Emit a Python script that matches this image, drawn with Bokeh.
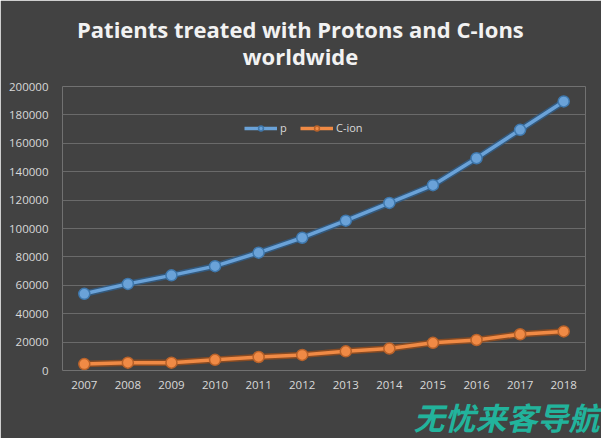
from bokeh.plotting import figure
from bokeh.models import Range1d, Title, Legend, LegendItem, FixedTicker, NumeralTickFormatter
from bokeh.embed import file_html
from bokeh.resources import INLINE

years = [2007, 2008, 2009, 2010, 2011, 2012, 2013, 2014, 2015, 2016, 2017, 2018]
protons = [54000, 61000, 67000, 73500, 83000, 93500, 105500, 118000, 130500, 149500, 169500, 189500]
cions = [4500, 5500, 5500, 7500, 9500, 11000, 13500, 15500, 19500, 21500, 25500, 27500]
y_ticks = [0, 20000, 40000, 60000, 80000, 100000, 120000, 140000, 160000, 180000, 200000]
title_lines = ["Patients treated with Protons and C-Ions", "worldwide"]

BG = "#424242"
p = figure(width=601, height=438, output_backend="svg", toolbar_location=None,
           x_range=Range1d(2006.5, 2018.5), y_range=Range1d(0, 200000),
           min_border_left=62, min_border_right=16, min_border_bottom=67, min_border_top=86,
           background_fill_color=BG, border_fill_color=BG, outline_line_color=None)

# second line is centred under the first with non-breaking spaces
p.title.text = title_lines[0] + "\n" + "\u00a0" * 29 + title_lines[1]
p.title.align = "left"
p.title.offset = 14.5
p.title.vertical_align = "top"
p.title.text_color = "#f2f2f2"
p.title.text_font = "Open Sans"
p.title.text_font_size = "22px"
p.title.text_font_style = "bold"
p.title.text_line_height = 0.93
p.title.standoff = 26

for ax in (p.xaxis, p.yaxis):
    ax.axis_line_color = None
    ax.major_tick_line_color = None
    ax.minor_tick_line_color = None
    ax.major_label_text_color = "#d9d9d9"
    ax.major_label_text_font = "Open Sans"
    ax.major_label_text_font_size = "11.5px"
p.xaxis.ticker = FixedTicker(ticks=years)
p.yaxis.ticker = FixedTicker(ticks=y_ticks)
p.yaxis.formatter = NumeralTickFormatter(format="0")
p.xaxis.major_label_standoff = 4
p.yaxis.major_label_standoff = 8
p.xgrid.grid_line_color = None
p.ygrid.grid_line_color = "#6a6a6a"
p.ygrid.grid_line_width = 1

# protons
p.line(years, protons, line_color="#2f5f8c", line_width=6.5, line_alpha=0.8)
pl = p.line(years, protons, line_color="#6aa2d8", line_width=3.5)
pc = p.scatter(years, protons, size=11, fill_color="#6aa2d8", line_color="#3f78ad", line_width=1.5)
# c-ions
p.line(years, cions, line_color="#9a4e1c", line_width=6.5, line_alpha=0.8)
cl = p.line(years, cions, line_color="#f08a45", line_width=3.5)
cc = p.scatter(years, cions, size=11, fill_color="#f08a45", line_color="#b8622a", line_width=1.5)

legend = Legend(items=[LegendItem(label="p", renderers=[pl, pc]),
                       LegendItem(label="C-ion", renderers=[cl, cc])],
                orientation="horizontal", location=(182, 235),
                background_fill_alpha=0, border_line_color=None,
                label_text_color="#d9d9d9", label_text_font="Open Sans",
                label_text_font_size="11px", glyph_width=33, glyph_height=12,
                spacing=0, label_standoff=3, padding=2, margin=0)
p.add_layout(legend, "center")

wm = Title(text="无忧来客导航", align="right", standoff=0, offset=-14,
           text_color="#22b39c", text_font="Noto Sans CJK SC", text_font_size="31px",
           text_font_style="bold italic", text_line_height=0.7)
p.add_layout(wm, "below")

open("out.html", "w").write(file_html(p, INLINE))
